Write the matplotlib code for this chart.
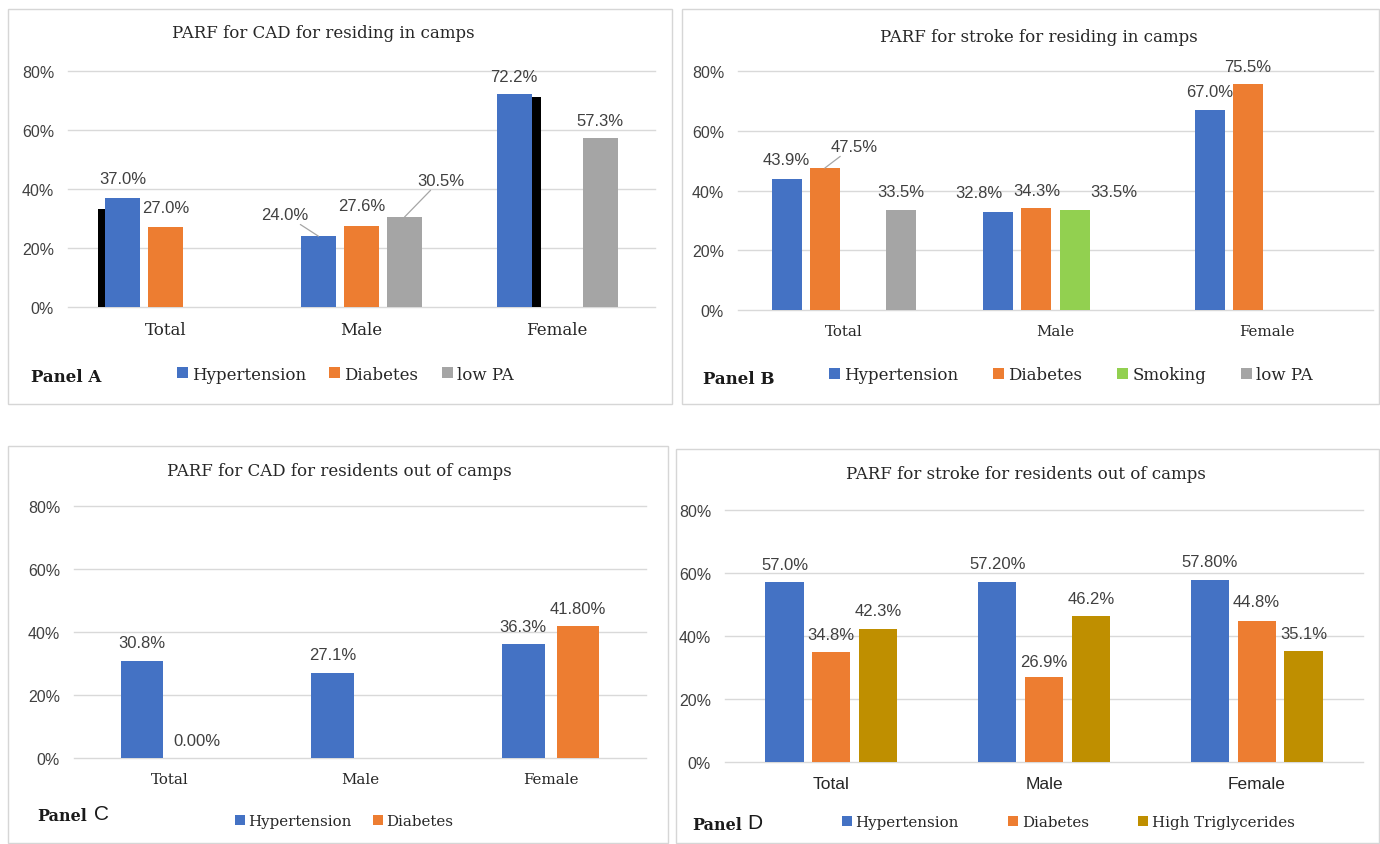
import matplotlib
matplotlib.use("Agg")
import matplotlib.pyplot as plt
from matplotlib import patheffects as pe
from matplotlib.patches import Rectangle, Patch

# ---------------- data ----------------
categories = ["Total", "Male", "Female"]

a_series = ["Hypertension", "Diabetes", "low PA"]
a_hypertension = [37.0, 24.0, 72.2]
a_diabetes = [27.0, 27.6, None]
a_lowpa = [None, 30.5, 57.3]
a_labels = [["37.0%", "24.0%", "72.2%"], ["27.0%", "27.6%", None], [None, "30.5%", "57.3%"]]

b_series = ["Hypertension", "Diabetes", "Smoking", "low PA"]
b_hypertension = [43.9, 32.8, 67.0]
b_diabetes = [47.5, 34.3, 75.5]
b_smoking = [None, 33.5, None]
b_lowpa = [33.5, None, None]
b_labels = [["43.9%", "32.8%", "67.0%"], ["47.5%", "34.3%", "75.5%"],
            [None, "33.5%", None], ["33.5%", None, None]]

c_series = ["Hypertension", "Diabetes"]
c_hypertension = [30.8, 27.1, 36.3]
c_diabetes = [0.0, None, 41.8]
c_labels = [["30.8%", "27.1%", "36.3%"], ["0.00%", None, "41.80%"]]

d_series = ["Hypertension", "Diabetes", "High Triglycerides"]
d_hypertension = [57.0, 57.2, 57.8]
d_diabetes = [34.8, 26.9, 44.8]
d_triglycerides = [42.3, 46.2, 35.1]
d_labels = [["57.0%", "57.20%", "57.80%"], ["34.8%", "26.9%", "44.8%"],
            ["42.3%", "46.2%", "35.1%"]]

yticks = [0, 20, 40, 60, 80]

colors = {"Hypertension": "#4472C4", "Diabetes": "#ED7D31", "Smoking": "#92D050",
          "low PA": "#A5A5A5", "High Triglycerides": "#BF8F00"}

SERIF = "DejaVu Serif"
SANS = "Liberation Sans"

W, H = 1380, 845
fig = plt.figure(figsize=(W / 100, H / 100), dpi=100)
fig.patch.set_facecolor("white")


def fx(x):
    return x / W


def fy(y):
    return 1 - y / H


def px_axes(x0, y0, x1, y1):
    return fig.add_axes([fx(x0), fy(y1), (x1 - x0) / W, (y1 - y0) / H])


# panel frames
for (x0, y0, x1, y1) in [(8, 10, 672, 405), (682, 10, 1379, 405),
                         (8, 447, 668, 844), (676, 450, 1379, 844)]:
    fig.patches.append(Rectangle((fx(x0), fy(y1)), (x1 - x0) / W, (y1 - y0) / H,
                                 transform=fig.transFigure, fill=False,
                                 edgecolor="#d6d6d6", lw=1.0))


def draw_panel(ax, series, values, labels, slot, width, offsets, leaders,
               shadows, tick_size, cat_font, cat_size):
    n = len(series)
    for j, (name, vals) in enumerate(zip(series, values)):
        for i, v in enumerate(vals):
            if v is None:
                continue
            x = i + (j - (n - 1) / 2) * slot
            bars = ax.bar([x], [v], width=width, color=colors[name], zorder=3)
            if (j, i) in shadows:
                ox, oy = shadows[(j, i)]
                bars[0].set_path_effects([pe.SimplePatchShadow(offset=(ox, oy),
                                                               shadow_rgbFace="black",
                                                               alpha=1.0),
                                          pe.Normal()])
            lab = labels[j][i]
            if lab is None:
                continue
            dx, dy = offsets.get((j, i), (0, 18))
            kw = {}
            if (j, i) in leaders:
                kw["arrowprops"] = dict(arrowstyle="-", color="#a6a6a6", lw=0.9,
                                        shrinkA=0, shrinkB=0)
            ax.annotate(lab, xy=(x, v), xytext=(dx, dy), textcoords="offset pixels",
                        ha="center", va="center", fontsize=12, family=SANS,
                        color="#404040", zorder=5, annotation_clip=False, **kw)
    ax.set_xlim(-0.5, len(categories) - 0.5)
    ax.set_ylim(0, 80)
    ax.set_yticks(yticks)
    ax.set_yticklabels([f"{t}%" for t in yticks], family=SANS, fontsize=tick_size,
                       color="#404040")
    ax.set_xticks(range(len(categories)))
    ax.set_xticklabels(categories, family=cat_font, fontsize=cat_size, color="#262626")
    ax.tick_params(axis="y", length=0, pad=10)
    ax.tick_params(axis="x", length=0, pad=10)
    ax.yaxis.grid(True, color="#d9d9d9", lw=1.0, zorder=0)
    for gl in ax.get_ygridlines():
        gl.set_clip_on(False)
    ax.set_axisbelow(True)
    for s in ax.spines.values():
        s.set_visible(False)
    ax.patch.set_alpha(0)


def legend(series, x, y, size, colspace):
    handles = [Patch(facecolor=colors[s], edgecolor="none") for s in series]
    fig.legend(handles, series, loc="center left", bbox_to_anchor=(fx(x), fy(y)),
               ncol=len(series), frameon=False, handlelength=0.65, handleheight=0.65,
               handletextpad=0.25, columnspacing=colspace, borderpad=0, borderaxespad=0,
               prop={"family": SERIF, "size": size}, labelcolor="#262626")


# ---------------- Panel A ----------------
axA = px_axes(68, 72, 655, 308)
draw_panel(axA, a_series, [a_hypertension, a_diabetes, a_lowpa], a_labels,
           slot=0.22, width=0.18,
           offsets={(0, 0): (0, 19), (1, 0): (0, 20), (0, 1): (-34, 22),
                    (1, 1): (0, 20), (2, 1): (36, 37), (2, 2): (0, 17)},
           leaders={(0, 1), (2, 1)},
           shadows={(0, 0): (-5, -8), (0, 2): (7, -2)},
           tick_size=11.5, cat_font=SERIF, cat_size=12)
fig.text(fx(323), fy(33), "PARF for CAD for residing in camps", family=SERIF,
         fontsize=12, ha="center", va="center", color="#262626")
fig.text(fx(31), fy(378), "Panel A", family=SERIF, fontweight="bold", fontsize=12,
         ha="left", va="center", color="#1a1a1a")
legend(a_series, 177, 375, 12, 1.4)

# ---------------- Panel B ----------------
axB = px_axes(738, 72, 1373, 311)
draw_panel(axB, b_series, [b_hypertension, b_diabetes, b_smoking, b_lowpa], b_labels,
           slot=0.18, width=0.142,
           offsets={(0, 0): (0, 19), (1, 0): (29, 22), (0, 1): (-19, 20),
                    (1, 1): (0, 17), (2, 1): (39, 18)},
           leaders={(1, 0)},
           shadows={},
           tick_size=11.5, cat_font=SERIF, cat_size=10.8)
fig.text(fx(1039), fy(37), "PARF for stroke for residing in camps", family=SERIF,
         fontsize=12, ha="center", va="center", color="#262626")
fig.text(fx(703), fy(380), "Panel B", family=SERIF, fontweight="bold", fontsize=12,
         ha="left", va="center", color="#1a1a1a")
legend(b_series, 829, 376, 12, 2.1)

# ---------------- Panel C ----------------
axC = px_axes(74, 507, 646, 759)
draw_panel(axC, c_series, [c_hypertension, c_diabetes], c_labels,
           slot=0.287, width=0.224,
           offsets={(1, 0): (0, 17), (0, 2): (0, 17)},
           leaders=set(), shadows={},
           tick_size=11.5, cat_font=SERIF, cat_size=10.8)
fig.text(fx(339), fy(472), "PARF for CAD for residents out of camps", family=SERIF,
         fontsize=12, ha="center", va="center", color="#262626")
fig.text(fx(37), fy(817), "Panel", family=SERIF, fontweight="bold", fontsize=11.5,
         ha="left", va="center", color="#1a1a1a")
fig.text(fx(94), fy(815), "C", family=SANS, fontsize=15, ha="left", va="center",
         color="#1a1a1a")
legend(c_series, 235, 822, 10.8, 1.4)

# ---------------- Panel D ----------------
axD = px_axes(725, 511, 1363, 763)
draw_panel(axD, d_series, [d_hypertension, d_diabetes, d_triglycerides], d_labels,
           slot=0.22, width=0.18,
           offsets={(1, 1): (0, 16), (1, 2): (0, 19)},
           leaders=set(), shadows={},
           tick_size=11.5, cat_font=SANS, cat_size=12.5)
fig.text(fx(1026), fy(475), "PARF for stroke for residents out of camps", family=SERIF,
         fontsize=12, ha="center", va="center", color="#262626")
fig.text(fx(692), fy(826), "Panel", family=SERIF, fontweight="bold", fontsize=11.5,
         ha="left", va="center", color="#1a1a1a")
fig.text(fx(747), fy(824), "D", family=SANS, fontsize=15, ha="left", va="center",
         color="#1a1a1a")
legend(d_series, 842, 823, 10.8, 3.3)

fig.savefig("out.png", dpi=100, facecolor="white")
